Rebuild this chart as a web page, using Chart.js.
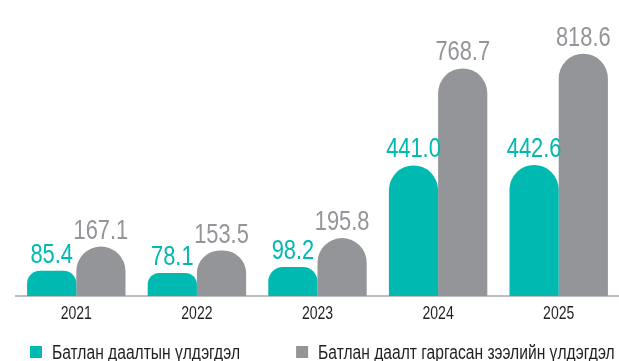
<!DOCTYPE html>
<html>
<head>
<meta charset="utf-8">
<script src="https://cdn.jsdelivr.net/npm/chart.js@4.4.1/dist/chart.umd.min.js"></script>
<style>
  html, body { margin: 0; padding: 0; background: #fff; }
  #wrap { width: 619px; height: 361px; }
</style>
</head>
<body>
<div id="wrap"><canvas id="chart"></canvas></div>
<script>
// -----Data
var years = ['2021', '2022', '2023', '2024', '2025']
var guaranteeBalance = [85.4, 78.1, 98.2, 441.0, 442.6]
var loanBalance = [167.1, 153.5, 195.8, 768.7, 818.6]
var seriesNames = ['Батлан даалтын үлдэгдэл', 'Батлан даалт гаргасан зээлийн үлдэгдэл']

var teal = '#00b9b0'
var grey = '#939598'
var textColor = '#231f20'
var fontFamily = "'Liberation Sans', Arial, sans-serif"
// squeeze text horizontally to get a condensed face
var NARROW = 0.78

function narrowText(ctx, text, x, y, align) {
  ctx.save()
  ctx.translate(x, y)
  ctx.scale(NARROW, 1)
  ctx.textAlign = align
  ctx.textBaseline = 'alphabetic'
  ctx.fillText(text, 0, 0)
  ctx.restore()
}

// -----Value labels, year labels and legend
var chartText = {
  id: 'chartText',
  afterDatasetsDraw: function(chart) {
    var ctx = chart.ctx
    ctx.save()
    ctx.font = '28px ' + fontFamily
    chart.data.datasets.forEach(function(ds, i) {
      var meta = chart.getDatasetMeta(i)
      ctx.fillStyle = ds.backgroundColor
      meta.data.forEach(function(bar, j) {
        narrowText(ctx, ds.data[j].toFixed(1), bar.x, bar.y - 8, 'center')
      })
    })
    ctx.restore()
  },
  afterDraw: function(chart) {
    var ctx = chart.ctx
    var xScale = chart.scales.x
    ctx.save()
    // years under each group
    ctx.font = '18px ' + fontFamily
    ctx.fillStyle = textColor
    years.forEach(function(y, i) {
      narrowText(ctx, y, xScale.getPixelForValue(i), chart.chartArea.bottom + 23, 'center')
    })
    // legend
    ctx.font = '20px ' + fontFamily
    var x = 30
    var baseY = chart.height - 2
    chart.data.datasets.forEach(function(ds, i) {
      ctx.fillStyle = ds.backgroundColor
      ctx.fillRect(x, baseY - 13, 12, 12)
      ctx.fillStyle = textColor
      narrowText(ctx, ds.label, x + 22, baseY, 'left')
      x += 22 + ctx.measureText(ds.label).width * NARROW + 56
    })
    ctx.restore()
  }
}

var ctx = document.getElementById('chart')
var myBarChart = new Chart(ctx, {
  type: 'bar',
  data: {
    labels: years,
    datasets: [{
      label: seriesNames[0],
      data: guaranteeBalance,
      backgroundColor: teal,
      borderRadius: 100,
      borderSkipped: 'start'
    }, {
      label: seriesNames[1],
      data: loanBalance,
      backgroundColor: grey,
      borderRadius: 100,
      borderSkipped: 'start'
    }]
  },
  options: {
    responsive: true,
    maintainAspectRatio: false,
    animation: false,
    categoryPercentage: 0.816,
    barPercentage: 1.0,
    layout: {
      padding: { left: 16, right: -4, top: 0, bottom: 65 }
    },
    scales: {
      x: {
        type: 'category',
        offset: true,
        grid: { display: false, drawTicks: false },
        border: { display: true, color: '#bcbec0', width: 2 },
        ticks: { display: false }
      },
      y: {
        display: false,
        min: 0,
        max: 1000
      }
    },
    plugins: {
      tooltip: { enabled: false },
      legend: { display: false }
    }
  },
  plugins: [chartText]
})
</script>
</body>
</html>
